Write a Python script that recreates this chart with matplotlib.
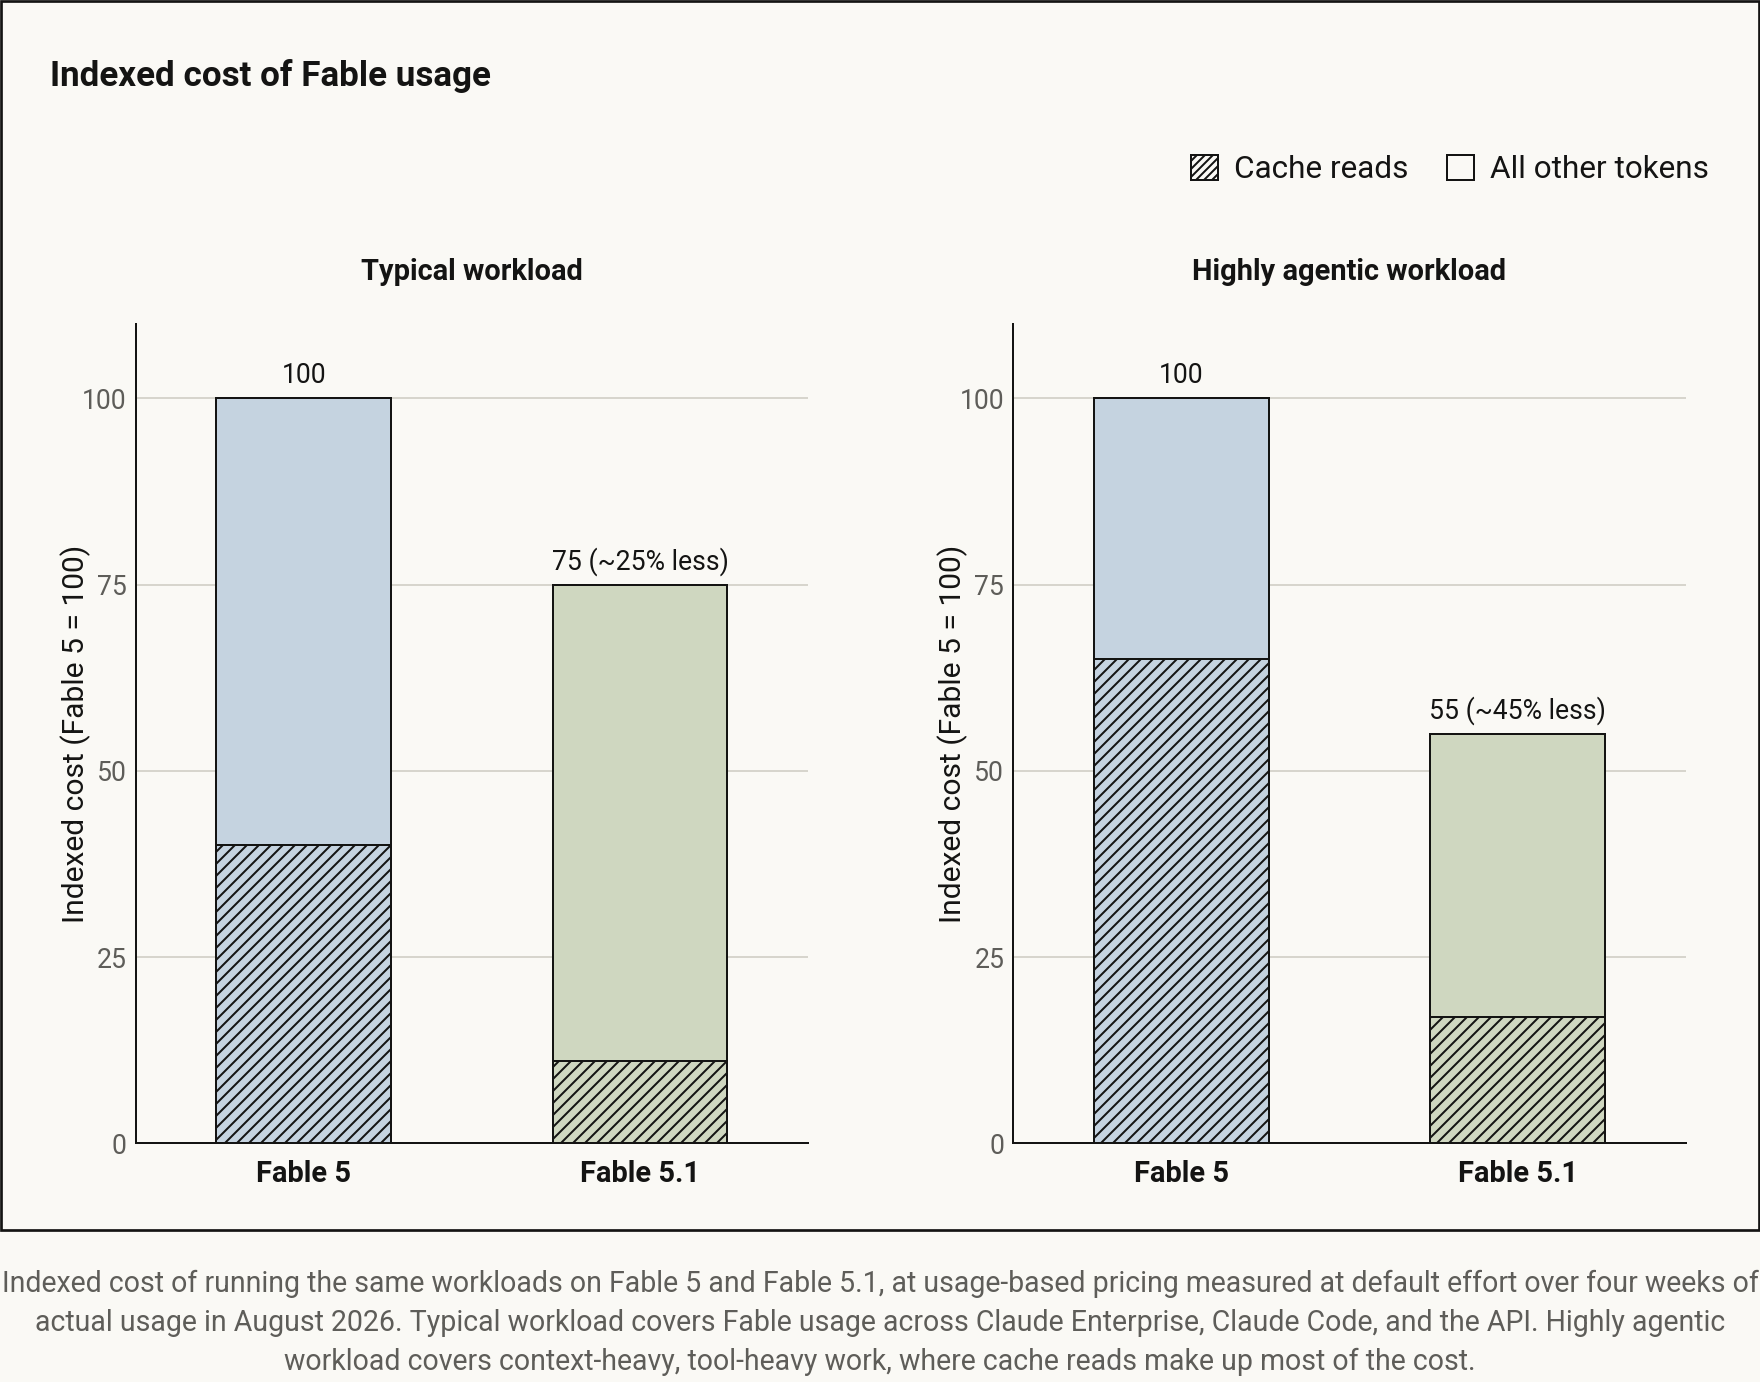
import matplotlib
matplotlib.use("Agg")
import matplotlib.pyplot as plt
from matplotlib.patches import Patch, Rectangle
import numpy as np

# ---------------- data ----------------
title = "Indexed cost of Fable usage"
panels = ["Typical workload", "Highly agentic workload"]
models = ["Fable 5", "Fable 5.1"]
typical_cache = [40, 11]
typical_total = [100, 75]
agentic_cache = [65, 17]
agentic_total = [100, 55]
typical_labels = ["100", "75 (~25% less)"]
agentic_labels = ["100", "55 (~45% less)"]
yticks = [0, 25, 50, 75, 100]
ylabel = "Indexed cost (Fable 5 = 100)"
legend_labels = ["Cache reads", "All other tokens"]
caption_lines = [
    "Indexed cost of running the same workloads on Fable 5 and Fable 5.1, at usage-based pricing measured at default effort over four weeks of",
    "actual usage in August 2026. Typical workload covers Fable usage across Claude Enterprise, Claude Code, and the API. Highly agentic",
    "workload covers context-heavy, tool-heavy work, where cache reads make up most of the cost.",
]

# ---------------- style ----------------
BG = "#faf9f5"
INK = "#141413"
GRAY = "#5e5d59"
GRID = "#cfcdc4"
model_colors = ["#c5d3e0", "#cfd7c0"]

plt.rcParams["font.family"] = ["Roboto", "DejaVu Sans"]
plt.rcParams["hatch.linewidth"] = 2.0

W, H = 1760, 1382
DPI = 72
fig = plt.figure(figsize=(W / DPI, H / DPI), dpi=DPI, facecolor=BG)


def rect(l, t, r, b):
    return [l / W, 1 - b / H, (r - l) / W, (b - t) / H]


# outer frame
fig.add_artist(Rectangle((1.3 / W, 1 - 1229.5 / H), (1758.7 - 1.3) / W, (1229.5 - 1.3) / H,
                         transform=fig.transFigure, fill=False, ec=INK, lw=2.7))

ax1 = fig.add_axes(rect(135.7, 324, 808.1, 1143.3))
ax2 = fig.add_axes(rect(1013.3, 324, 1685.7, 1143.3))

panel_data = [
    (ax1, panels[0], typical_cache, typical_total, typical_labels),
    (ax2, panels[1], agentic_cache, agentic_total, agentic_labels),
]

x = np.arange(len(models))
for ax, name, cache, total, labels in panel_data:
    cache = np.array(cache, dtype=float)
    total = np.array(total, dtype=float)
    other = total - cache
    ax.set_facecolor(BG)
    ax.bar(x, cache, width=0.52, color=model_colors, edgecolor=INK, lw=2,
           hatch="//", zorder=3)
    ax.bar(x, other, bottom=cache, width=0.52, color=model_colors, edgecolor=INK,
           lw=2, zorder=3)
    for xi, tv, lab in zip(x, total, labels):
        ax.annotate(lab, (xi, tv), xytext=(0, 15.5), textcoords="offset points",
                    ha="center", va="baseline", fontsize=26.5, color=INK)
    ax.set_xlim(-0.5, 1.5)
    ax.set_ylim(0, 110)
    ax.set_yticks(yticks)
    ax.set_xticks(x)
    ax.set_xticklabels(models, fontsize=29, fontweight="bold", color=INK)
    ax.tick_params(axis="y", length=0, pad=9, labelsize=26.5, labelcolor=GRAY)
    ax.tick_params(axis="x", length=0, pad=17)
    ax.yaxis.grid(True, color=GRID, lw=1.6, zorder=0)
    ax.set_axisbelow(True)
    for s in ["top", "right"]:
        ax.spines[s].set_visible(False)
    for s in ["left", "bottom"]:
        ax.spines[s].set_color(INK)
        ax.spines[s].set_linewidth(2)
        ax.spines[s].set_zorder(4)
    ax.set_title(name, fontsize=29, fontweight="bold", color=INK, pad=44.5)
    ax.set_ylabel(ylabel, fontsize=30, color=INK)
    ax.yaxis.label.set_verticalalignment("center")
    ax.yaxis.set_label_coords((75.5 - 135.7) / 672.4, 0.5)

# main title
fig.text(50 / W, 1 - 86 / H, title, fontsize=35, fontweight="bold", color=INK,
         ha="left", va="baseline")

# legend
handles = [
    Patch(facecolor="none", edgecolor=INK, hatch="///", lw=2),
    Patch(facecolor="none", edgecolor=INK, lw=2),
]
fig.legend(handles, legend_labels, loc="center right",
           bbox_to_anchor=(1709 / W, 1 - 169.5 / H), ncol=2, frameon=False,
           fontsize=31.5, handlelength=0.86, handleheight=0.86, handletextpad=0.5,
           columnspacing=1.25, borderpad=0, borderaxespad=0, labelcolor=INK)

# caption
for i, line in enumerate(caption_lines):
    fig.text(0.5, 1 - (1291.5 + 39.3 * i) / H, line, fontsize=28.5, color=GRAY,
             ha="center", va="baseline")

fig.savefig("out.png", dpi=DPI, facecolor=BG)
